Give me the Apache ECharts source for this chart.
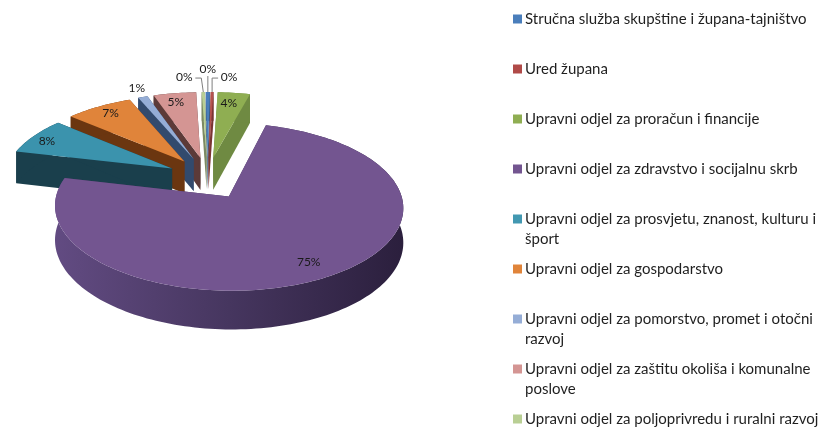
<!DOCTYPE html>
<html>
<head>
<meta charset="utf-8">
<style>
  html, body { margin: 0; padding: 0; background: #fff; }
  #main { width: 820px; height: 428px; }
</style>
<script src="https://cdn.jsdelivr.net/npm/echarts@6/dist/echarts.min.js"></script>
</head>
<body>
<div id="main"></div>
<script>
var categories = [
  'Stručna služba skupštine i župana-tajništvo',
  'Ured župana',
  'Upravni odjel za proračun i financije',
  'Upravni odjel za zdravstvo i socijalnu skrb',
  'Upravni odjel za prosvjetu, znanost, kulturu i\nšport',
  'Upravni odjel za gospodarstvo',
  'Upravni odjel za pomorstvo, promet i otočni\nrazvoj',
  'Upravni odjel za zaštitu okoliša i komunalne\nposlove',
  'Upravni odjel za poljoprivredu i ruralni razvoj'
];
var shares = [0.45, 0.3, 3.55, 74.6, 7.6, 7.4, 1.05, 4.7, 0.35];

var topColors = ['#4a7ebb', '#b5514e', '#8fae52', '#735590', '#3b93ad', '#e0843a', '#95add6', '#d49593', '#b9cf94'];
var wallColors = ['#33577f', '#7a3533', '#6f8a42', '#46365f', '#1a3f4c', '#6b3610', '#324a6d', '#5c3a38', '#7c8a63'];
var legendColors = ['#4a7ebb', '#b04a48', '#8fae52', '#735590', '#4298b1', '#e0843a', '#95add6', '#d49593', '#b9cf94'];

// pomak oznake od sredine ruba kriske, u pikselima
var labelShift = [[0, -23], [17, -15], [-5, 10], [-22, -14], [13, 5], [12, 6], [-6, -9], [1, 9], [-19, -15]];
var hasLeader = [true, true, false, false, false, false, false, false, true];

// projekcija nagnutog kruga
var cx = 207.5, cy = 178, radiusX = 168, radiusY = 78, persp = 0.12, depth = 33, explodeX = 0.24, explodeY = 0.27;
var firstAngle = -0.7;

var total = 0;
for (var i = 0; i < shares.length; i++) total += shares[i];

function project(u, v, z) {
  var w = 1 + persp * v;
  return [cx + radiusX * u / w, cy + (z - radiusY * v) / w];
}

function rad(a) { return a * Math.PI / 180; }

function get_slice(index) {
  var from = firstAngle;
  for (var i = 0; i < index; i++) from += shares[i] / total * 360;
  var to = from + shares[index] / total * 360;
  var mid = (from + to) / 2;
  return {
    from: from, to: to, mid: mid,
    ou: explodeX * Math.sin(rad(mid)),
    ov: explodeY * Math.cos(rad(mid))
  };
}

function arc_points(s, z) {
  var pts = [];
  var steps = Math.max(2, Math.ceil((s.to - s.from) / 1.5));
  for (var i = 0; i <= steps; i++) {
    var a = rad(s.from + (s.to - s.from) * i / steps);
    pts.push(project(s.ou + Math.sin(a), s.ov + Math.cos(a), z));
  }
  return pts;
}

function poly(points, fill, z2) {
  return { type: 'polygon', shape: { points: points }, style: { fill: fill }, z2: z2, silent: true };
}

function render_slice(params, api) {
  var index = params.dataIndex;
  var s = get_slice(index);
  var order = 100 - Math.round(Math.cos(rad(s.mid)) * 50);
  var top = arc_points(s, 0);
  var bottom = arc_points(s, depth);
  var apexTop = project(s.ou, s.ov, 0);
  var apexBottom = project(s.ou, s.ov, depth);
  var wall = wallColors[index];
  var rimFill = wall;
  if (index === 3) {
    rimFill = new echarts.graphic.LinearGradient(0, 0, 1, 0, [
      { offset: 0, color: '#624b82' },
      { offset: 0.5, color: '#46365f' },
      { offset: 1, color: '#2b1f3d' }
    ]);
  }
  var children = [
    poly([apexTop, top[0], bottom[0], apexBottom], wall, order),
    poly([apexTop, top[top.length - 1], bottom[bottom.length - 1], apexBottom], wall, order),
    poly(top.concat(bottom.slice().reverse()), rimFill, order + 1),
    poly([apexTop].concat(top), topColors[index], order + 2)
  ];

  var rim = project(s.ou + Math.sin(rad(s.mid)), s.ov + Math.cos(rad(s.mid)), 0);
  var lx = rim[0] + labelShift[index][0];
  var ly = rim[1] + labelShift[index][1];
  if (hasLeader[index]) {
    var sign = index === 8 ? 1 : (index === 1 ? -1 : 0);
    var pts = sign === 0 ? [[lx, ly + 7]] : [[lx + sign * 11, ly + 1], [lx + sign * 17, ly + 1]];
    pts.push([rim[0], rim[1]]);
    children.push({
      type: 'polyline', shape: { points: pts },
      style: { stroke: '#7f7f7f', lineWidth: 1, fill: null }, z2: 150, silent: true
    });
  }
  children.push({
    type: 'text', z2: 200, silent: true,
    style: {
      x: lx, y: ly,
      text: Math.round(api.value(1) / total * 100) + '%',
      font: '12px Lato', fill: '#1a1a1a', align: 'center', verticalAlign: 'middle'
    }
  });
  return { type: 'group', children: children };
}

function get_legend() {
  var items = [];
  for (var i = 0; i < categories.length; i++) {
    var y = 19 + i * 50;
    items.push({
      type: 'rect', shape: { x: 513, y: y - 4.5, width: 9, height: 9 },
      style: { fill: legendColors[i] }
    });
    items.push({
      type: 'text', x: 525, y: y - 10,
      style: { text: categories[i], font: '15px Lato', fill: '#1f1f1f', lineHeight: 20, verticalAlign: 'top' }
    });
  }
  return items;
}

var data = [];
for (var j = 0; j < shares.length; j++) data.push([j, shares[j]]);

var chart = echarts.init(document.getElementById('main'));
chart.setOption({
  animation: false,
  backgroundColor: '#fff',
  graphic: { elements: get_legend() },
  series: [{
    type: 'custom',
    coordinateSystem: 'none',
    renderItem: render_slice,
    data: data
  }]
});
</script>
</body>
</html>
